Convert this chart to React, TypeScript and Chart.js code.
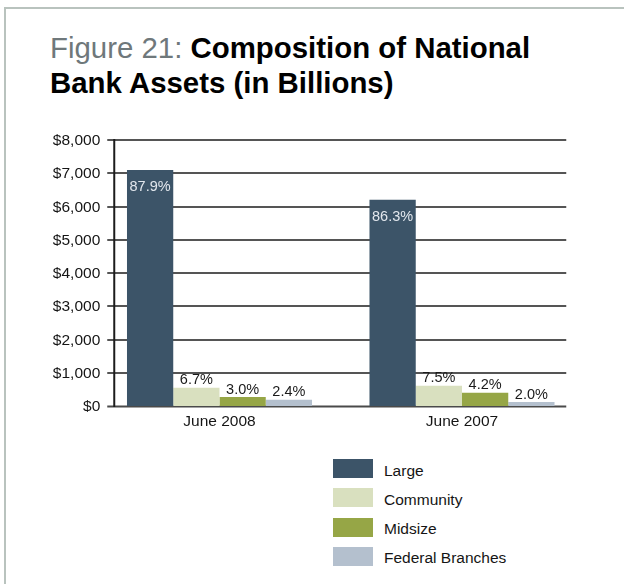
import React, { useEffect, useRef } from "react";
import { Chart, registerables } from "chart.js";

Chart.register(...registerables);

const categories = ["June 2008", "June 2007"];
const seriesNames = ["Large", "Community", "Midsize", "Federal Branches"];
const large = [7100, 6200];
const community = [550, 610];
const midsize = [270, 400];
const federalBranches = [190, 120];
const largePct = ["87.9%", "86.3%"];
const communityPct = ["6.7%", "7.5%"];
const midsizePct = ["3.0%", "4.2%"];
const federalPct = ["2.4%", "2.0%"];
const yMin = 0;
const yMax = 8000;
const yStep = 1000;

const seriesColors = ["#3c5468", "#d9e0bf", "#96a646", "#b4c0ce"];
const FONT = "'Liberation Sans', Arial, Helvetica, sans-serif";

const seriesValues = [large, community, midsize, federalBranches];
const seriesPct = [largePct, communityPct, midsizePct, federalPct];

const formatMoney = (v: number) => "$" + Number(v).toLocaleString("en-US");

const gridPlugin = {
  id: "customGrid",
  beforeDatasetsDraw(chart: any) {
    const { ctx, chartArea, scales } = chart;
    const ys = scales.y;
    const x0 = chartArea.left + 9;
    const axisX = chartArea.left + 16;
    const x1 = chartArea.right - 17;
    ctx.save();
    ys.ticks.forEach((t: any) => {
      const y = Math.round(ys.getPixelForValue(t.value));
      ctx.beginPath();
      if (t.value === 0) {
        ctx.strokeStyle = "#4a4a4a";
        ctx.lineWidth = 2;
        ctx.moveTo(x0, y + 0.5);
        ctx.lineTo(x1, y + 0.5);
      } else {
        ctx.strokeStyle = "#1c1c1c";
        ctx.lineWidth = 1.5;
        ctx.moveTo(x0, y);
        ctx.lineTo(x1, y);
      }
      ctx.stroke();
      ctx.fillStyle = "#151515";
      ctx.font = `15.5px ${FONT}`;
      ctx.textAlign = "right";
      ctx.textBaseline = "middle";
      ctx.fillText(formatMoney(t.value), chartArea.left + 2, y + 1);
    });
    ctx.beginPath();
    ctx.strokeStyle = "#1c1c1c";
    ctx.lineWidth = 2;
    ctx.moveTo(axisX, ys.getPixelForValue(yMax) - 1);
    ctx.lineTo(axisX, ys.getPixelForValue(yMin) + 1);
    ctx.stroke();
    ctx.restore();
  },
};

const labelPlugin = {
  id: "pctLabels",
  afterDatasetsDraw(chart: any) {
    const { ctx } = chart;
    ctx.save();
    ctx.font = `14.5px ${FONT}`;
    ctx.textAlign = "center";
    chart.data.datasets.forEach((ds: any, i: number) => {
      const meta = chart.getDatasetMeta(i);
      meta.data.forEach((el: any, j: number) => {
        const txt = seriesPct[i][j];
        if (i === 0) {
          ctx.fillStyle = "#e2e7ed";
          ctx.textBaseline = "middle";
          ctx.fillText(txt, el.x, el.y + 17);
        } else {
          ctx.fillStyle = "#1a1a1a";
          ctx.textBaseline = "alphabetic";
          ctx.fillText(txt, el.x, el.y - 3.5);
        }
      });
    });
    ctx.restore();
  },
};

function ChartCanvas() {
  const ref = useRef<HTMLCanvasElement | null>(null);
  useEffect(() => {
    if (!ref.current) return;
    const chart = new Chart(ref.current, {
      type: "bar",
      data: {
        labels: categories,
        datasets: seriesNames.map((name, i) => ({
          label: name,
          data: seriesValues[i],
          backgroundColor: seriesColors[i],
          borderWidth: 0,
          barPercentage: 1,
          categoryPercentage: 0.763,
        })),
      },
      options: {
        responsive: false,
        animation: false,
        devicePixelRatio: 1,
        layout: { padding: { left: 0, right: 40.75, top: 140, bottom: 0 } },
        plugins: {
          legend: { display: false },
          tooltip: { enabled: false },
          title: { display: false },
        },
        scales: {
          x: {
            type: "category",
            offset: true,
            grid: { display: false, drawTicks: false },
            border: { display: false },
            ticks: {
              color: "#151515",
              padding: 6,
              font: { family: FONT, size: 15.5 },
            },
            afterFit: (s: any) => {
              s.height = 34;
            },
          },
          y: {
            type: "linear",
            min: yMin,
            max: yMax,
            grid: { display: false, drawTicks: false },
            border: { display: false },
            ticks: {
              display: false,
              stepSize: yStep,
              callback: (v: any) => formatMoney(v),
            },
            afterFit: (s: any) => {
              s.width = 98.25;
            },
          },
        },
      },
      plugins: [gridPlugin, labelPlugin],
    });
    return () => chart.destroy();
  }, []);
  return (
    <canvas
      ref={ref}
      width={624}
      height={440}
      style={{ position: "absolute", left: 0, top: 0, width: 624, height: 440 }}
    />
  );
}

export default function App() {
  return (
    <div
      style={{
        position: "absolute",
        left: 0,
        top: 0,
        width: 624,
        height: 584,
        overflow: "hidden",
        background: "#ffffff",
        fontFamily: FONT,
      }}
    >
      <div
        style={{
          position: "absolute",
          left: 4,
          top: 7,
          width: 680,
          height: 640,
          border: "2px solid #b9c3be",
          boxSizing: "border-box",
        }}
      />
      <div
        style={{
          position: "absolute",
          left: 50,
          top: 30,
          width: 570,
          fontSize: 29.4,
          lineHeight: "35px",
          color: "#000",
        }}
      >
        <span style={{ color: "#6f787b" }}>Figure 21: </span>
        <span style={{ fontWeight: "bold" }}>
          Composition of National
          <br />
          Bank Assets (in Billions)
        </span>
      </div>
      <ChartCanvas />
      <div style={{ position: "absolute", left: 333, top: 459 }}>
        {seriesNames.map((name, i) => (
          <div
            key={name}
            style={{
              position: "absolute",
              left: 0,
              top: i * 29.3,
              height: 19,
              width: 250,
              display: "flex",
              alignItems: "center",
            }}
          >
            <div style={{ width: 40, height: 19, background: seriesColors[i] }} />
            <div style={{ marginLeft: 11, fontSize: 15.5, color: "#151515", whiteSpace: "nowrap", position: "relative", top: 2 }}>
              {name}
            </div>
          </div>
        ))}
      </div>
    </div>
  );
}
